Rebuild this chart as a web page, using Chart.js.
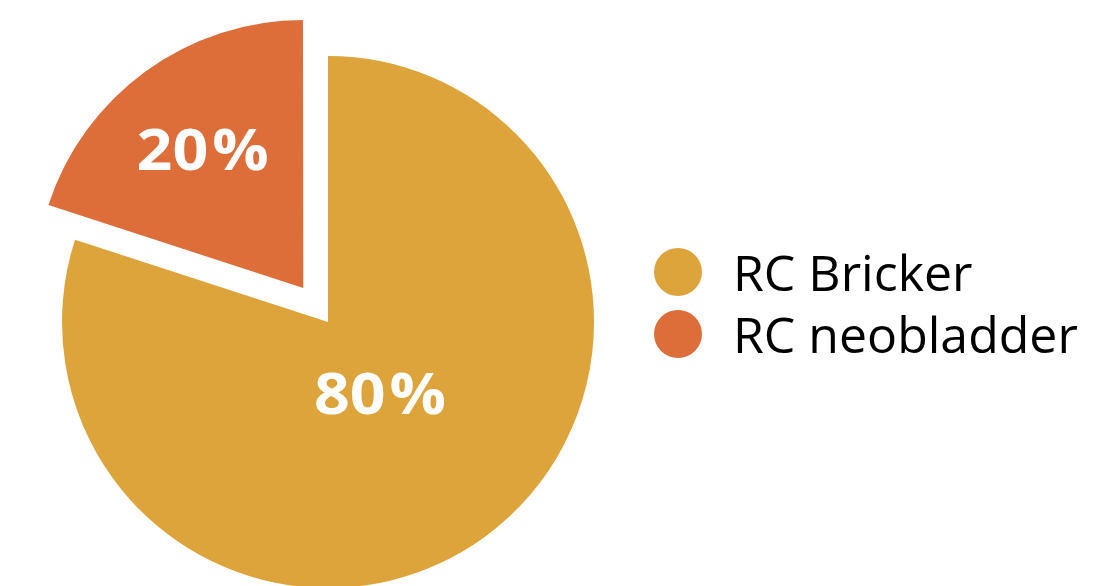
<!DOCTYPE html>
<html>
<head>
<meta charset="utf-8">
<script src="https://cdn.jsdelivr.net/npm/chart.js@4.4.1/dist/chart.umd.min.js"></script>
<style>
  html, body { margin: 0; padding: 0; background: #ffffff; }
  #wrap { position: relative; width: 1117px; height: 586px; overflow: hidden; }
  #wrap canvas { position: absolute; left: 0; top: 0; }
  #legend { position: absolute; left: 654px; top: 241px; font-family: "Open Sans", sans-serif; font-size: 50px; color: #000; }
  .row { display: flex; align-items: center; height: 62px; line-height: 62px; white-space: nowrap; }
  .dot { width: 48px; height: 48px; border-radius: 50%; margin-right: 31px; flex: none; }
</style>
</head>
<body>
<div id="wrap">
  <canvas id="c" width="1117" height="586"></canvas>
  <div id="legend"></div>
</div>
<script>
const categories = ["RC Bricker", "RC neobladder"];
const shares = [80, 20];
const sliceColors = ["#DCA43A", "#DD6E39"];
// Chart.js v4 arcs move by offset/4 pixels
const sliceOffsets = [0, 168];
const labelRadiusFraction = [0.332, 0.644];

// HTML legend built from the data arrays
const legendEl = document.getElementById('legend');
categories.forEach((name, i) => {
  const row = document.createElement('div');
  row.className = 'row';
  const dot = document.createElement('span');
  dot.className = 'dot';
  dot.style.background = sliceColors[i];
  const txt = document.createElement('span');
  txt.textContent = name;
  row.appendChild(dot);
  row.appendChild(txt);
  legendEl.appendChild(row);
});

const sliceLabels = {
  id: 'sliceLabels',
  afterDatasetsDraw(chart) {
    const ctx = chart.ctx;
    const meta = chart.getDatasetMeta(0);
    const fontSize = 58, sx = 1.08, gap = 4;
    ctx.save();
    ctx.fillStyle = '#ffffff';
    ctx.font = 'bold ' + fontSize + 'px "Open Sans", sans-serif';
    ctx.textAlign = 'left';
    ctx.textBaseline = 'alphabetic';
    meta.data.forEach((arc, i) => {
      const p = arc.getProps(['x', 'y', 'startAngle', 'endAngle', 'outerRadius'], true);
      const mid = (p.startAngle + p.endAngle) / 2;
      const r = labelRadiusFraction[i] * p.outerRadius + sliceOffsets[i] / 4;
      const cx = p.x + Math.cos(mid) * r;
      const cy = p.y + Math.sin(mid) * r;
      const num = String(shares[i]);
      const wNum = ctx.measureText(num).width;
      const wPct = ctx.measureText('%').width;
      const total = (wNum + wPct) * sx + gap;
      ctx.save();
      ctx.translate(cx - total / 2, cy + fontSize * 0.357);
      ctx.scale(sx, 1);
      ctx.fillText(num, 0, 0);
      ctx.fillText('%', wNum + gap / sx, 0);
      ctx.restore();
    });
    ctx.restore();
  }
};

new Chart(document.getElementById('c'), {
  type: 'pie',
  data: {
    labels: categories,
    datasets: [{
      data: shares,
      backgroundColor: sliceColors,
      borderWidth: 0,
      offset: sliceOffsets,
      hoverOffset: 0,
      clip: false
    }]
  },
  options: {
    responsive: false,
    animation: false,
    radius: 266,
    layout: { padding: { left: 0, right: 461, top: 58, bottom: 0 } },
    plugins: {
      legend: { display: false },
      tooltip: { enabled: false }
    }
  },
  plugins: [sliceLabels]
});
</script>
</body>
</html>
